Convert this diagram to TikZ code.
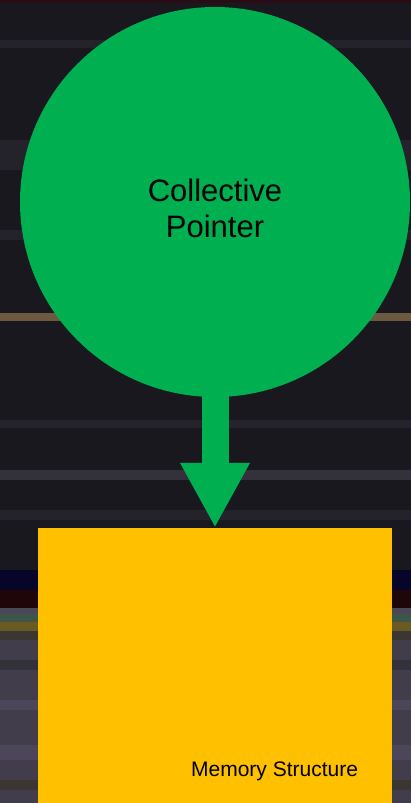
\documentclass[tikz,border=0pt]{standalone}
\usepackage{fontspec}
\setmainfont{Liberation Sans}
\usetikzlibrary{arrows.meta}
\definecolor{ptrgreen}{HTML}{00B050}
\definecolor{memgold}{HTML}{FFC000}
\definecolor{bgdark}{HTML}{1A181F}
\definecolor{bgtop}{HTML}{2A0C14}
\definecolor{bgstreak}{HTML}{24222B}
\definecolor{bgtan}{HTML}{6B5A40}
\definecolor{bgnavy}{HTML}{07062A}
\definecolor{bgred}{HTML}{1F0609}
\definecolor{bgslate}{HTML}{4A4858}
\definecolor{bgmoss}{HTML}{3D5647}
\definecolor{bgolive}{HTML}{6A5A22}
\definecolor{bgbrown}{HTML}{3B3631}
\definecolor{bggrey}{HTML}{423D4A}
\definecolor{bgmauve}{HTML}{4D4559}
\definecolor{bgshade}{HTML}{33323A}

\begin{document}
\begin{tikzpicture}[x=1pt, y=-1pt,
  pointer/.style={circle, fill=ptrgreen, minimum size=390pt, inner sep=0pt},
  ptrtext/.style={align=center, inner sep=0pt, font=\fontsize{31}{36}\selectfont},
  memory/.style={rectangle, fill=memgold, minimum width=354pt, minimum height=276pt, inner sep=0pt},
  caption/.style={font=\fontsize{21}{25}\selectfont, inner sep=0pt},
  link/.style={ptrgreen, line width=27pt, -{Triangle[width=65pt, length=65pt]}}]
  \useasboundingbox (0,0) rectangle (411,803);
  \fill[bgdark] (0,0) rectangle (411,803);
  \foreach \ya/\yb/\col in {0/3/bgtop, 40/48/bgstreak, 140/170/bgstreak, 230/240/bgstreak,
      313/321/bgtan, 420/428/bgstreak, 470/480/bgshade, 510/520/bgstreak,
      570/590/bgnavy, 590/608/bgred, 608/614/bgslate, 614/622/bgmoss, 622/631/bgolive,
      631/640/bgbrown, 640/803/bggrey, 660/670/bgshade, 700/710/bgmauve, 745/760/bgmauve, 780/790/bgbrown}
    \fill[\col] (0,\ya) rectangle (411,\yb);
  \node[pointer] (ptr) at (215,202) {};
  \node[ptrtext] (ptrlbl) at ([yshift=-6pt]ptr.center) {Collective\\Pointer};
  \node[memory] (mem) at (215,666) {};
  \node[caption, anchor=base east] (memlbl) at ([xshift=-34pt, yshift=28pt]mem.south east) {Memory Structure};
  \draw[link] ([yshift=6pt]ptr.south) -- (mem.north);
\end{tikzpicture}
\end{document}
